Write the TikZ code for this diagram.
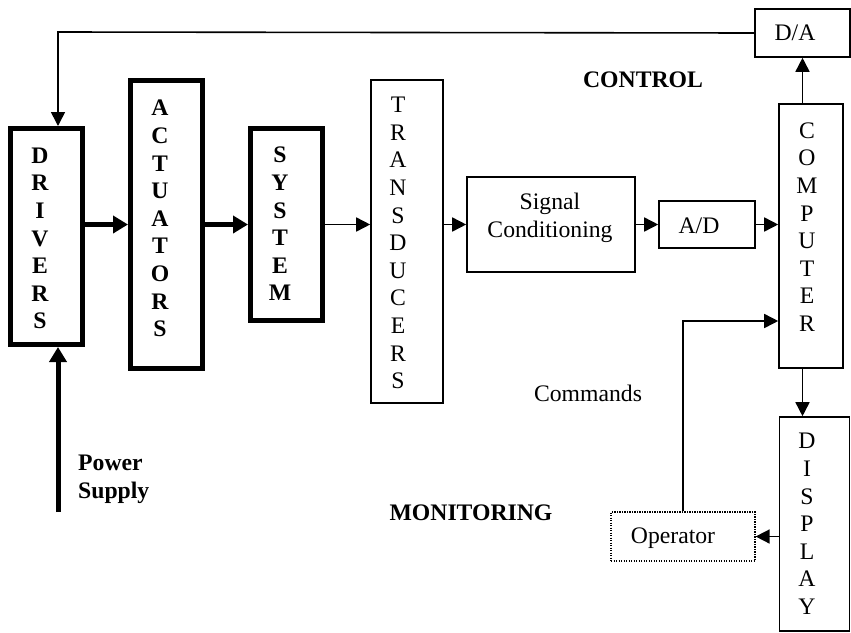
\documentclass[tikz,border=0pt]{standalone}
\usepackage{fontspec}
\setmainfont{Liberation Serif}
\usetikzlibrary{arrows.meta}

\tikzset{
  blk/.style={draw, line width=1.6pt, inner sep=0pt},
  heavyblk/.style={draw, line width=5pt, inner sep=0pt},
  letters/.style={align=center, inner sep=0pt, font=\fontsize{23.7}{27.6}\selectfont},
  lbl/.style={inner sep=0pt, font=\fontsize{23.7}{27.6}\selectfont},
  boldlbl/.style={lbl, font=\fontsize{23.7}{27.6}\selectfont\bfseries},
  sig/.style={line width=1.6pt, -{Triangle[length=14pt,width=14pt]}},
  heavysig/.style={line width=5pt, -{Triangle[length=15pt,width=17pt]}},
}

\begin{document}
\begin{tikzpicture}[x=1pt, y=-1pt]
  \useasboundingbox (0,0) rectangle (851,632);

  % processing chain
  \node[heavyblk, minimum width=72pt, minimum height=216pt] (drv) at (46.5,236.5) {};
  \node[heavyblk, minimum width=72pt, minimum height=288pt] (act) at (166.5,224.5) {};
  \node[heavyblk, minimum width=72pt, minimum height=192pt] (sys) at (286.5,224.5) {};
  \node[blk, minimum width=72pt, minimum height=323pt] (trd) at (407,241.5) {};
  \node[blk, minimum width=168pt, minimum height=95pt] (sc) at (551,224.5) {};
  \node[blk, minimum width=96pt, minimum height=47pt] (ad) at (707,224.5) {};
  \node[blk, minimum width=64pt, minimum height=264pt] (cmp) at (811,236) {};
  \node[blk, minimum width=95pt, minimum height=48pt] (da) at (802.5,33) {};
  \node[blk, minimum width=70pt, minimum height=214pt] (dsp) at (814.5,524) {};
  \node[draw, line width=1.2pt, dash pattern=on 1.2pt off 1.3pt, inner sep=0pt,
        minimum width=144pt, minimum height=49pt] (op) at (683,536.5) {};

  % box texts
  \node[letters, font=\fontsize{23.7}{27.6}\selectfont\bfseries] (drvtxt) at (40,238.5) {D\\R\\I\\V\\E\\R\\S};
  \node[letters, font=\fontsize{23.7}{27.6}\selectfont\bfseries] (acttxt) at (160,218.5) {A\\C\\T\\U\\A\\T\\O\\R\\S};
  \node[letters, font=\fontsize{23.7}{27.6}\selectfont\bfseries] (systxt) at (280,224) {S\\Y\\S\\T\\E\\M};
  \node[letters] (trdtxt) at (398,243) {T\\R\\A\\N\\S\\D\\U\\C\\E\\R\\S};
  \node[letters] (cmptxt) at (807,227) {C\\O\\M\\P\\U\\T\\E\\R};
  \node[letters] (dsptxt) at (807,524) {D\\I\\S\\P\\L\\A\\Y};
  \node[letters] (sctxt) at (550,218) {Signal\\Conditioning};
  \node[lbl] (adtxt) at (699,226) {A/D};
  \node[lbl] (datxt) at (795,33) {D/A};
  \node[lbl] (optxt) at (673,538) {Operator};

  % free labels
  \node[boldlbl] (ctl) at (643,80) {CONTROL};
  \node[boldlbl] (mon) at (471,513) {MONITORING};
  \node[lbl] (cmds) at (588,393) {Commands};
  \node[boldlbl, align=left, anchor=west] (pwr) at (78,479) {Power\\Supply};

  % bends and loose ends
  \coordinate (fbk) at (58,32);
  \coordinate (cmd) at (683,321);
  \coordinate (ps) at (58,512);

  % signal flow
  \draw[heavysig] (drv.east |- act) -- (act.west);
  \draw[heavysig] (act.east) -- (sys.west);
  \draw[sig] (sys.east) -- (trd.west |- sys);
  \draw[sig] (trd.east |- sc) -- (sc.west);
  \draw[sig] (sc.east) -- (ad.west);
  \draw[sig] (ad.east) -- (cmp.west |- ad);
  \draw[sig] (cmp.north -| da) -- (da.south);
  \draw[sig] (da.west) -- (fbk) -- (fbk |- drv.north);
  \draw[sig] (cmp.south -| da) -- (dsp.north -| da);
  \draw[sig] (dsp.west |- op) -- (op.east);
  \draw[sig] (op.north) -- (cmd) -- (cmp.west |- cmd);
  \draw[heavysig] (ps) -- (ps |- drv.south);
\end{tikzpicture}
\end{document}
